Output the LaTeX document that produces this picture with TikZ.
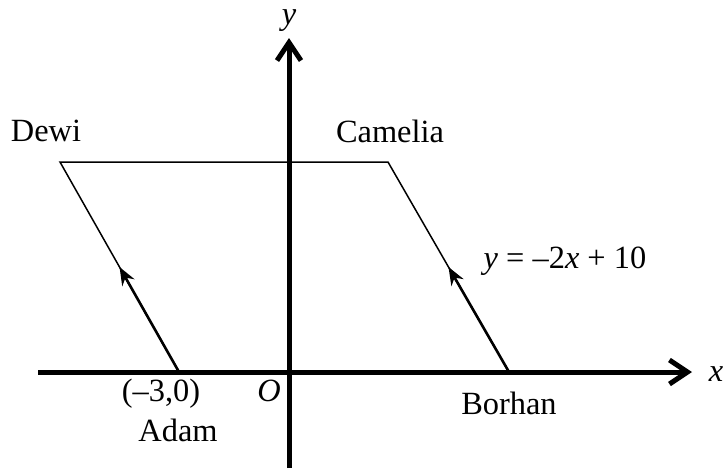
\documentclass[tikz,border=0pt]{standalone}
\usepackage{fontspec}
\setmainfont{Liberation Serif}
\usepackage{tikz}
\usetikzlibrary{arrows.meta,calc}

\begin{document}
\begin{tikzpicture}[
  x=0.5pt, y=-0.5pt,
  font=\fontsize{16.2}{18}\selectfont,
  axis/.style={line width=2.5pt,-{Straight Barb[length=9pt,width=12pt,line width=2.5pt]}},
  side/.style={line width=0.75pt,line join=miter},
  walk/.style={line width=1.3pt,-{Stealth[length=9pt,width=7pt]}},
  lbl/.style={inner sep=0pt},
]
  \useasboundingbox (0,0) rectangle (725,468);

  % axes
  \coordinate (xs) at (38,372);
  \coordinate (xe) at (692,372);
  \coordinate (ys) at (289,468);
  \coordinate (ye) at (289,38);
  \draw[axis] (xs) -- (xe);
  \draw[axis] (ys) -- (ye);
  \node[lbl] (xlab) at (716,374) {\textit{x}};
  \node[lbl] (ylab) at (289,21) {\textit{y}};
  \node[lbl] (orig) at (269,391) {\textit{O}};

  % the four friends
  \coordinate (adam) at (179,372);
  \coordinate (borhan) at (509,372);
  \coordinate (camelia) at (388,162);
  \coordinate (dewi) at (60,162);
  \draw[side] (adam) -- (dewi) -- (camelia) -- (borhan);

  % walking directions
  \coordinate (adamTip) at ($(adam)!0.5!(dewi)$);
  \coordinate (borhanTip) at ($(borhan)!0.5!(camelia)$);
  \draw[walk] (adam) -- (adamTip);
  \draw[walk] (borhan) -- (borhanTip);

  \node[lbl] (dewiLab) at (46,131) {Dewi};
  \node[lbl] (cameliaLab) at (390,131) {Camelia};
  \node[lbl] (line) at (565,261) {\textit{y} = –2\textit{x} + 10};
  \node[lbl] (point) at (161,394) {(–3,0)};
  \node[lbl] (adamLab) at (178,430) {Adam};
  \node[lbl] (borhanLab) at (509,403) {Borhan};
\end{tikzpicture}
\end{document}
